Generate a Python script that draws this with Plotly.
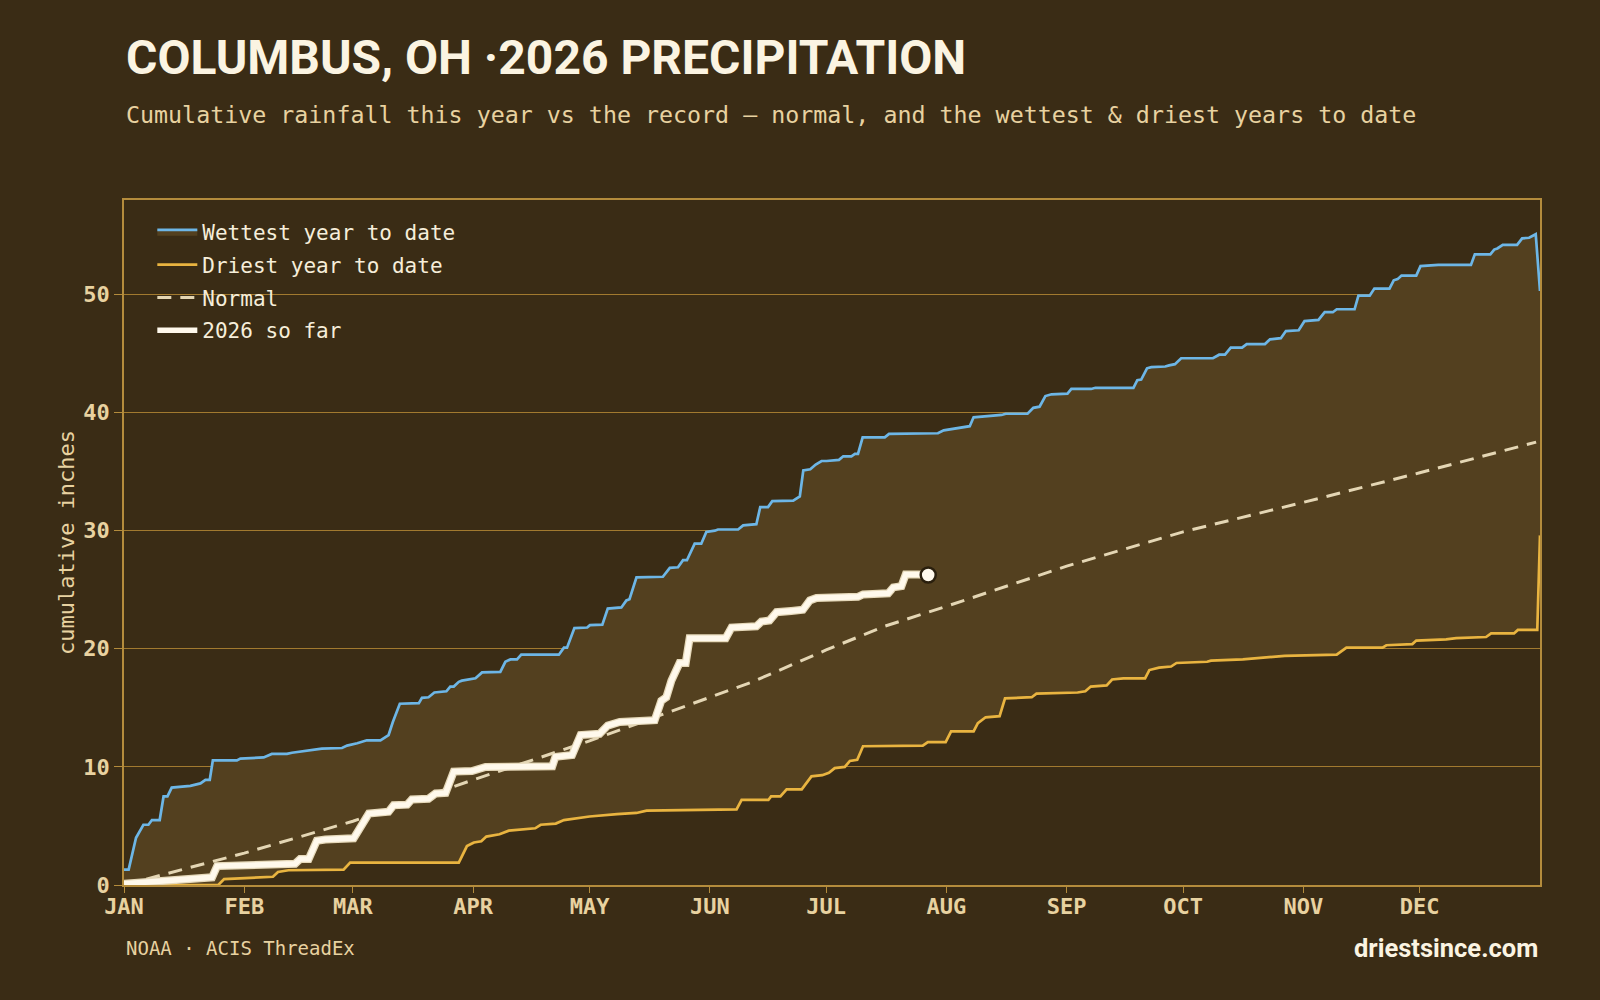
import plotly.graph_objects as go

# ---------------- data (day of year, cumulative inches) ----------------
month_days = [0, 31, 59, 90, 120, 151, 181, 212, 243, 273, 304, 334]
month_labels = ["JAN", "FEB", "MAR", "APR", "MAY", "JUN", "JUL", "AUG", "SEP", "OCT", "NOV", "DEC"]
y_ticks = [0, 10, 20, 30, 40, 50]

wettest_day = [0, 1.2, 3.1, 5.0, 6.3, 7.2, 9.2, 10.2, 11.2, 12.3, 17.1, 18.4, 19.7, 21.0, 22.1, 22.9,
               29.1, 30, 36, 38.1, 42, 43.3, 45.4, 46.3, 51, 56.2, 57.5, 60.1, 62.6, 66.1, 68.2, 69.3,
               71.1, 76, 76.8, 78.5, 80, 83.1, 84.1, 85, 86.3, 87.1, 90.6, 92.3, 97, 98.3, 99.6, 101.3,
               102.4, 112.1, 113.4, 114.2, 116.1, 119.4, 120.1, 123.3, 124.7, 128.2, 129.5, 130.3,
               132.1, 138.9, 140.7, 142.8, 144.1, 145.1, 147.1, 148.8, 150.1, 152.3, 153.1, 158.3,
               159.6, 163, 164.0, 166, 167.1, 172.5, 174.2, 175.1, 176.9, 178.3, 179.8, 181.1, 184.3,
               185.4, 187.5, 188.4, 189.2, 190.4, 196.1, 197.2, 209.8, 211.3, 215.4, 218, 219, 226.2,
               227.3, 232.9, 234.4, 236, 237.5, 239.1, 243.2, 244.2, 249.3, 250.4, 260.2, 261.2, 262.2,
               263.7, 264.8, 268.4, 269.4, 270.9, 272.5, 280.7, 282.3, 283.8, 285.3, 288.2, 289.4,
               294.1, 295.4, 298.2, 299.5, 302.8, 304.3, 307.9, 309.5, 311.6, 312.6, 317.2, 318.2,
               321.1, 322.3, 326.2, 327.3, 328.3, 329.3, 333.1, 334.2, 338.8, 347.2, 348.2, 352.2,
               353.2, 354, 355.4, 359.1, 360.4, 362.2, 363.9, 365]
wettest_val = [1.3, 1.3, 4.0, 5.1, 5.1, 5.5, 5.5, 7.5, 7.5, 8.25, 8.4, 8.5, 8.6, 8.9, 8.9, 10.55,
               10.55, 10.7, 10.8, 11.1, 11.1, 11.2, 11.3, 11.35, 11.55, 11.6, 11.8, 12.0, 12.25, 12.25,
               12.7, 13.8, 15.35, 15.4, 15.85, 15.9, 16.3, 16.4, 16.8, 16.8, 17.2, 17.3, 17.5, 18.0,
               18.05, 18.9, 19.1, 19.1, 19.5, 19.5, 20.1, 20.1, 21.75, 21.8, 22.0, 22.05, 23.4, 23.5,
               24.1, 24.2, 26.05, 26.1, 26.85, 26.9, 27.5, 27.5, 28.9, 28.9, 29.9, 30.0, 30.1, 30.1,
               30.45, 30.55, 32.0, 32.0, 32.5, 32.55, 32.9, 35.1, 35.2, 35.6, 35.9, 35.9, 36.0, 36.3,
               36.3, 36.5, 36.5, 37.9, 37.9, 38.2, 38.25, 38.5, 38.7, 38.85, 39.6, 39.8, 39.9, 39.9,
               40.4, 40.5, 41.4, 41.55, 41.6, 42.0, 42.0, 42.1, 42.1, 42.75, 42.8, 43.75, 43.85, 43.9,
               44.0, 44.1, 44.6, 44.6, 44.9, 44.9, 45.5, 45.5, 45.8, 45.8, 46.2, 46.3, 46.9, 46.97,
               47.75, 47.85, 48.5, 48.5, 48.75, 48.75, 49.9, 49.9, 50.5, 50.5, 51.2, 51.3, 51.6, 51.6,
               52.4, 52.5, 52.5, 53.4, 53.4, 53.8, 53.9, 54.2, 54.2, 54.75, 54.8, 55.1, 50.3]

driest_day = [0, 24.3, 25.8, 31.1, 38.4, 39.7, 42.4, 56.6, 58.3, 86.3, 88.4, 90.2, 92.1, 93.4, 96.8,
              99.2, 106, 107.4, 111.3, 113.4, 120, 127.1, 132.1, 134.7, 157.9, 159.2, 166.1, 166.8,
              169.2, 170.8, 174.7, 177.2, 180, 181.7, 183.2, 185.8, 187.1, 189, 190.5, 205.9, 207.2,
              211.8, 213.2, 219, 220.1, 222.1, 225.7, 227.1, 234, 235.2, 245.8, 247.8, 249.2, 253.3,
              254.7, 257.6, 263.2, 264.3, 266.8, 269.9, 271.3, 279.2, 280.2, 288.4, 294.6, 299.2,
              312.6, 315.1, 324.4, 325.4, 332.1, 333.1, 340.8, 343.4, 351.1, 352.4, 358.3, 359.3,
              364.3, 365]
driest_val = [0, 0, 0.5, 0.6, 0.7, 1.1, 1.25, 1.3, 1.9, 1.9, 3.3, 3.6, 3.7, 4.1, 4.3, 4.6, 4.8, 5.1,
              5.2, 5.5, 5.8, 6.0, 6.1, 6.3, 6.4, 7.2, 7.2, 7.5, 7.5, 8.1, 8.1, 9.2, 9.3, 9.5, 9.9, 10.0,
              10.5, 10.6, 11.75, 11.8, 12.1, 12.1, 13.0, 13.0, 13.7, 14.2, 14.3, 15.8, 15.9, 16.2, 16.3,
              16.4, 16.8, 16.9, 17.4, 17.5, 17.5, 18.2, 18.4, 18.5, 18.8, 18.9, 19.0, 19.1, 19.3, 19.4,
              19.5, 20.1, 20.1, 20.3, 20.4, 20.7, 20.8, 20.9, 21.0, 21.3, 21.3, 21.6, 21.6, 29.6]

normal_day = [0, 31, 59, 90, 120, 151, 162, 181, 196, 212, 243, 273, 304, 334, 364]
normal_val = [0, 2.7, 5.4, 8.9, 12.2, 15.9, 17.2, 19.9, 21.9, 23.6, 27.0, 29.9, 32.4, 34.9, 37.5]

now_day = [0, 7.6, 12.8, 17.1, 22.7, 24, 35.1, 36.4, 44.1, 45.4, 47.6, 49.7, 51.9, 59.2, 60.5, 63.1,
           68.2, 69.5, 73, 74.2, 78.5, 80.3, 82.9, 85, 89.7, 93.2, 110.4, 111.2, 115.5, 117.7, 122.6,
           124.7, 127.8, 136.8, 138.5, 139.8, 141.1, 143.2, 144.8, 145.8, 155.1, 156.6, 163, 164.3,
           166.4, 168.2, 172.0, 175, 176.8, 178.5, 189.2, 190.5, 197, 198.3, 200.4, 201.5, 204.7, 207.3]
now_val = [0.1, 0.3, 0.5, 0.55, 0.65, 1.6, 1.7, 1.8, 1.8, 2.2, 2.2, 3.75, 3.85, 3.95, 4.65, 6.05, 6.2,
           6.75, 6.8, 7.25, 7.3, 7.75, 7.8, 9.6, 9.65, 10.0, 10.05, 10.85, 11.0, 12.7, 12.8, 13.5, 13.8,
           13.95, 15.6, 15.9, 17.3, 18.8, 18.8, 20.9, 20.9, 21.8, 21.9, 22.3, 22.4, 23.1, 23.2, 23.3,
           24.1, 24.3, 24.4, 24.6, 24.7, 25.2, 25.3, 26.3, 26.3, 26.25]

# ---------------- styling ----------------
BG = "#3A2C15"
FILL = "#53401F"
GRID = "#A27A2F"
AXIS = "#B48C3C"
BLUE = "#6DB6E6"
GOLD = "#E9B440"
NORMAL = "#E4D6B4"
WHITE = "#FFF9EC"
HALO = "#E6D9BA"
TAN = "#E8D2A0"
TITLE = "#FBF4E2"
MONO = "DejaVu Sans Mono"

fig = go.Figure()

fig.add_trace(go.Scatter(x=driest_day, y=driest_val, mode="lines", name="Driest year to date",
                         line=dict(color=GOLD, width=2.7), legendrank=2, legendgroup="d"))
fig.add_trace(go.Scatter(x=wettest_day, y=wettest_val, mode="lines", name="Wettest year to date",
                         line=dict(color=BLUE, width=2.7), fill="tonexty", fillcolor=FILL,
                         legendrank=1, legendgroup="w"))
fig.add_trace(go.Scatter(x=normal_day, y=normal_val, mode="lines", name="Normal",
                         line=dict(color=NORMAL, width=3, dash="14px,9px"), legendrank=3,
                         legendgroup="n"))
fig.add_trace(go.Scatter(x=now_day, y=now_val, mode="lines", showlegend=False, hoverinfo="skip",
                         line=dict(color=HALO, width=8), legendgroup="h"))
fig.add_trace(go.Scatter(x=now_day, y=now_val, mode="lines", name="2026 so far",
                         line=dict(color=WHITE, width=5.5), legendrank=4, legendgroup="s"))
fig.add_trace(go.Scatter(x=[now_day[-1]], y=[now_val[-1]], mode="markers", showlegend=False,
                         marker=dict(color=WHITE, size=15, line=dict(color="#2A1F0D", width=2.5)),
                         legendgroup="m"))

fig.update_layout(
    width=1600, height=1000,
    paper_bgcolor=BG, plot_bgcolor=BG,
    margin=dict(l=124, r=60, t=200, b=115),
    font=dict(family=MONO, color=TAN),
    showlegend=True,
    legend=dict(x=0.02, y=0.983, xanchor="left", yanchor="top", bgcolor="rgba(0,0,0,0)",
                font=dict(family=MONO, size=21, color="#F6EEDA"), tracegroupgap=2.5,
                traceorder="grouped", itemwidth=40),
    xaxis=dict(range=[0, 365], tickvals=month_days, ticktext=month_labels, showgrid=False,
               zeroline=False, showline=True, linecolor=AXIS, linewidth=1.5, mirror=True,
               ticks="outside", ticklen=6, tickcolor=AXIS, tickwidth=1, ticklabelstandoff=-5,
               tickfont=dict(family=MONO, size=22, color=TAN, weight="bold")),
    yaxis=dict(range=[0, 58], tickvals=y_ticks, showgrid=True, gridcolor=GRID, gridwidth=1,
               zeroline=False, showline=True, linecolor=AXIS, linewidth=1.5, mirror=True,
               ticks="outside", ticklen=8, tickcolor=AXIS, tickwidth=1,
               tickfont=dict(family=MONO, size=22, color=TAN, weight="bold"),
               title=dict(text="cumulative inches", font=dict(family=MONO, size=22, color=TAN),
                          standoff=3)),
)

fig.add_annotation(xref="paper", yref="paper", x=0, y=1.208, xanchor="left", yanchor="middle",
                   text="<b>COLUMBUS, OH ·2026 PRECIPITATION</b>", showarrow=False,
                   font=dict(family="Roboto", size=48, color=TITLE))
fig.add_annotation(xref="paper", yref="paper", x=0, y=1.125, xanchor="left", yanchor="middle",
                   text="Cumulative rainfall this year vs the record — normal, and the wettest & driest years to date",
                   showarrow=False, font=dict(family=MONO, size=23.3, color=TAN))
fig.add_annotation(xref="paper", yref="paper", x=0, y=-0.092, xanchor="left", yanchor="middle",
                   text="NOAA · ACIS ThreadEx", showarrow=False,
                   font=dict(family=MONO, size=19, color=TAN))
fig.add_annotation(xref="paper", yref="paper", x=1, y=-0.092, xanchor="right", yanchor="middle",
                   text="<b>driestsince.com</b>", showarrow=False,
                   font=dict(family="Roboto", size=25.5, color=TITLE))

fig.write_html("out.html")
